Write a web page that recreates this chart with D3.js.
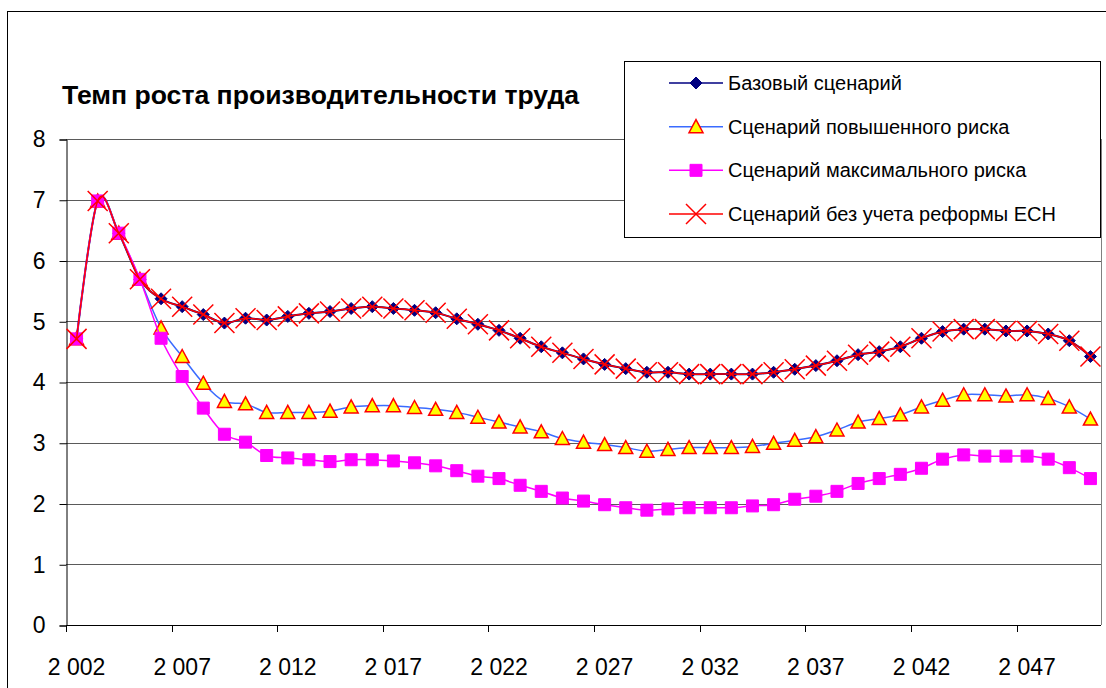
<!DOCTYPE html>
<html>
<head>
<meta charset="utf-8">
<script src="https://cdn.jsdelivr.net/npm/d3@7"></script>
<style>
    body { margin: 0; background: #fff; }
    svg { display: block; font-family: "Liberation Sans", Arial, sans-serif; }
</style>
</head>
<body>
<svg id="chart" width="1106" height="688"></svg>
<script>
// years on the category axis
const years = d3.range(2002, 2051);

// series values
const baseScenario = [4.71, 6.98, 6.45, 5.69, 5.37, 5.24, 5.11, 4.97, 5.05, 5.02, 5.08, 5.13, 5.16, 5.21, 5.24, 5.21, 5.18, 5.14, 5.04, 4.95, 4.85, 4.72, 4.58, 4.48, 4.38, 4.29, 4.22, 4.16, 4.16, 4.13, 4.13, 4.13, 4.13, 4.16, 4.21, 4.27, 4.35, 4.45, 4.50, 4.58, 4.72, 4.83, 4.87, 4.87, 4.84, 4.84, 4.79, 4.68, 4.42];
const highRisk = [4.71, 6.98, 6.45, 5.69, 4.89, 4.42, 3.98, 3.68, 3.64, 3.50, 3.50, 3.50, 3.52, 3.59, 3.61, 3.61, 3.58, 3.55, 3.50, 3.42, 3.34, 3.26, 3.18, 3.07, 3.01, 2.97, 2.92, 2.86, 2.89, 2.92, 2.92, 2.92, 2.94, 2.99, 3.04, 3.10, 3.21, 3.34, 3.40, 3.46, 3.59, 3.70, 3.79, 3.79, 3.77, 3.79, 3.73, 3.59, 3.39];
const maxRisk = [4.71, 6.98, 6.45, 5.69, 4.72, 4.09, 3.57, 3.14, 3.01, 2.79, 2.75, 2.72, 2.69, 2.72, 2.72, 2.70, 2.67, 2.62, 2.54, 2.45, 2.41, 2.30, 2.20, 2.09, 2.04, 1.98, 1.93, 1.89, 1.91, 1.93, 1.93, 1.93, 1.96, 1.98, 2.07, 2.12, 2.20, 2.33, 2.41, 2.48, 2.58, 2.73, 2.80, 2.78, 2.78, 2.78, 2.73, 2.59, 2.41];
const noEsnReform = [4.71, 6.98, 6.45, 5.69, 5.37, 5.24, 5.11, 4.97, 5.05, 5.02, 5.08, 5.13, 5.16, 5.21, 5.24, 5.21, 5.18, 5.14, 5.04, 4.95, 4.85, 4.72, 4.58, 4.48, 4.38, 4.29, 4.22, 4.16, 4.16, 4.13, 4.13, 4.13, 4.13, 4.16, 4.21, 4.27, 4.35, 4.45, 4.50, 4.58, 4.72, 4.83, 4.87, 4.87, 4.84, 4.84, 4.79, 4.68, 4.42];

const seriesNames = ["Базовый сценарий", "Сценарий повышенного риска", "Сценарий максимального риска", "Сценарий без учета реформы ЕСН"];
const yTicks = [0, 1, 2, 3, 4, 5, 6, 7, 8];
const title = "Темп роста производительности труда";

// marker shapes, centred on 0,0
const markers = {
    diamond: "M0,-6L6,0L0,6L-6,0Z",
    triangle: "M0,-7L7,6L-7,6Z",
    square: "M-6,-6H6V6H-6Z",
    cross: "M-10,-10L10,10M10,-10L-10,10"
};

const series = [
    { name: seriesNames[0], values: baseScenario, line: "#000080", width: 2, marker: "diamond", fill: "#000080", stroke: "#000080", sw: 1 },
    { name: seriesNames[1], values: highRisk, line: "#3a6bff", width: 1.5, marker: "triangle", fill: "#ffff00", stroke: "#ff0000", sw: 1.5 },
    { name: seriesNames[2], values: maxRisk, line: "#ff00ff", width: 1.5, marker: "square", fill: "#ff00ff", stroke: "#ff00ff", sw: 1 },
    { name: seriesNames[3], values: noEsnReform, line: "#ff0000", width: 1.5, marker: "cross", fill: "none", stroke: "#ff0000", sw: 1.5 }
];

let svg = d3.select("#chart");

// plot area box
let plotL = 66, plotR = 1101, plotT = 139, plotB = 625;

let x = d3.scaleBand().domain(years).range([plotL, plotR]).padding(0);
let y = d3.scaleLinear().domain([0, 8]).range([plotB, plotT]);
let cx = d => x(d) + x.bandwidth() / 2;

let ru = d3.formatLocale({ decimal: ",", thousands: "\u00a0", grouping: [3], currency: ["", ""] });
let fmtYear = ru.format(",d");

// chart area border (runs off the right and bottom of the picture)
svg.append("rect")
    .attr("x", 7.5).attr("y", 11.5)
    .attr("width", 1120).attr("height", 700)
    .attr("fill", "#fff").attr("stroke", "#000").attr("stroke-width", 1);

// gridlines
svg.append("g")
    .selectAll("line")
    .data(yTicks.filter(t => t > 0))
    .enter()
    .append("line")
    .attr("x1", plotL).attr("x2", plotR)
    .attr("y1", d => Math.round(y(d)) + 0.5).attr("y2", d => Math.round(y(d)) + 0.5)
    .attr("stroke", "#5a5a5a");

// right edge of plot area
svg.append("line")
    .attr("x1", plotR + 0.5).attr("x2", plotR + 0.5)
    .attr("y1", plotT).attr("y2", plotB)
    .attr("stroke", "#808080");

// y axis
let yAxis = svg.append("g")
    .attr("transform", "translate(" + (plotL + 0.5) + ",0.5)")
    .call(d3.axisLeft(y).tickValues(yTicks).tickSize(7).tickPadding(14).tickFormat(d3.format("d")));
yAxis.select(".domain").attr("stroke", "#000");
yAxis.selectAll(".tick line").attr("stroke", "#000");
yAxis.selectAll("text").attr("font-size", 23).attr("fill", "#000").attr("font-family", null);

// x axis: ticks on category boundaries every 5 years, labels under the category
let tickYears = years.filter((d, i) => i % 5 === 0);
let xAxis = svg.append("g");
xAxis.append("line")
    .attr("x1", plotL).attr("x2", plotR)
    .attr("y1", plotB + 0.5).attr("y2", plotB + 0.5)
    .attr("stroke", "#000");
xAxis.selectAll(".xtick")
    .data(tickYears)
    .enter()
    .append("line")
    .attr("x1", d => Math.round(x(d)) + 0.5).attr("x2", d => Math.round(x(d)) + 0.5)
    .attr("y1", plotB).attr("y2", plotB + 7)
    .attr("stroke", "#000");
xAxis.selectAll(".xlabel")
    .data(tickYears)
    .enter()
    .append("text")
    .attr("x", d => cx(d))
    .attr("y", 675)
    .attr("text-anchor", "middle")
    .attr("font-size", 23)
    .text(d => fmtYear(d));

// lines + markers, series by series (red crosses end up on top)
let line = d3.line()
    .x((d, i) => cx(years[i]))
    .y(d => y(d))
    .curve(d3.curveCatmullRom.alpha(0));

for (let s of series) {
    let g = svg.append("g");
    g.append("path")
        .attr("d", line(s.values))
        .attr("fill", "none")
        .attr("stroke", s.line)
        .attr("stroke-width", s.width);
    g.selectAll(".m")
        .data(s.values)
        .enter()
        .append("path")
        .attr("transform", (d, i) => "translate(" + cx(years[i]) + "," + y(d) + ")")
        .attr("d", markers[s.marker])
        .attr("fill", s.fill)
        .attr("stroke", s.stroke)
        .attr("stroke-width", s.sw);
}

// title
svg.append("text")
    .attr("x", 62).attr("y", 104)
    .attr("font-size", 26.6).attr("font-weight", "bold")
    .text(title);

// legend
let legend = svg.append("g");
legend.append("rect")
    .attr("x", 624.5).attr("y", 61.5)
    .attr("width", 476).attr("height", 176)
    .attr("fill", "#fff").attr("stroke", "#000");

let rowY = d3.scalePoint().domain(seriesNames).range([83, 214]);
let items = legend.selectAll(".item")
    .data(series)
    .enter()
    .append("g")
    .attr("transform", d => "translate(0," + rowY(d.name) + ")");
items.append("line")
    .attr("x1", 669).attr("x2", 723)
    .attr("stroke", d => d.line)
    .attr("stroke-width", 1.5);
items.append("path")
    .attr("transform", "translate(696,0)")
    .attr("d", d => markers[d.marker])
    .attr("fill", d => d.fill)
    .attr("stroke", d => d.stroke)
    .attr("stroke-width", d => d.sw);
items.append("text")
    .attr("x", 728).attr("y", 0)
    .attr("dy", "0.35em")
    .attr("font-size", 20)
    .text(d => d.name);
</script>
</body>
</html>
